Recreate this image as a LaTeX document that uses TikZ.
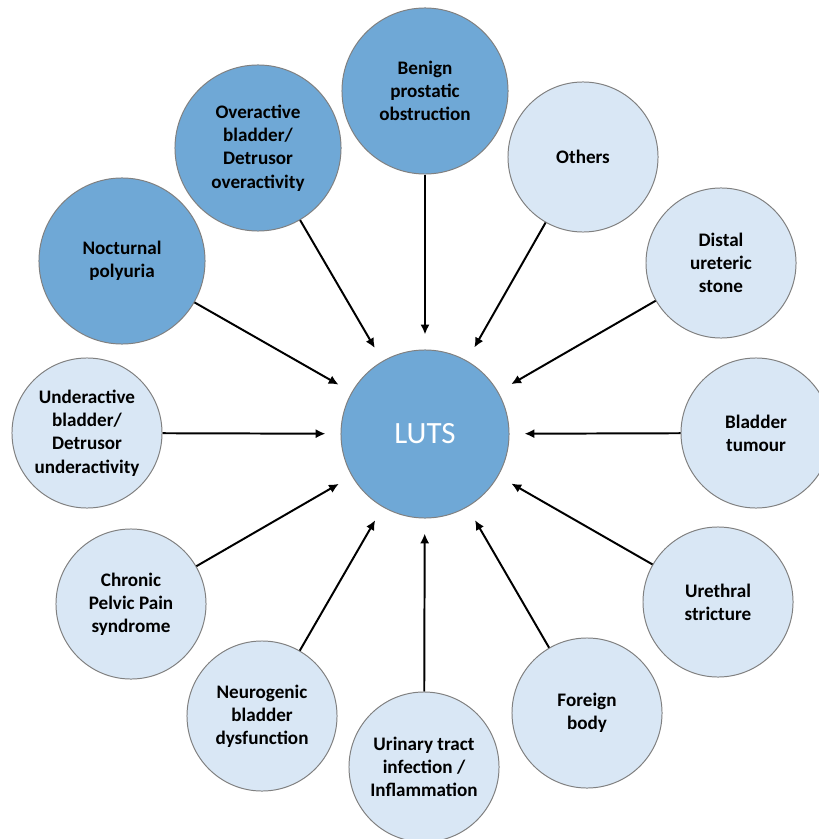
\documentclass[tikz,border=0pt]{standalone}
\usepackage{fontspec}
\setmainfont{Carlito}
\usetikzlibrary{arrows.meta}

\definecolor{darkblue}{HTML}{6FA8D6}
\definecolor{lightblue}{HTML}{D9E7F5}

\begin{document}
\begin{tikzpicture}[x=0.025cm, y=-0.025cm,
    cause/.style={circle, draw=gray, line width=0.7pt, fill=lightblue,
        minimum size=3.75cm, inner sep=0pt, align=center,
        font=\fontsize{13.6}{16.5}\selectfont\bfseries},
    major/.style={cause, fill=darkblue, minimum size=4.15cm},
    link/.style={-{Latex[length=7pt,width=6.5pt]}, line width=1.4pt, shorten >=0.375cm}]
    \useasboundingbox (0,0) rectangle (819,839);

    % centre
    \node[major, minimum size=4.2cm, text=white, font=\fontsize{22}{26}\selectfont] (luts) at (425,434) {LUTS};

    % main causes
    \node[major] (bpo) at (425,91) {Benign\\prostatic\\obstruction};
    \node[major] (oab) at (258,148) {Overactive\\bladder/\\Detrusor\\overactivity};
    \node[major] (np) at (122,261) {Nocturnal\\polyuria};

    % other causes
    \node[cause] (oth) at (583,157) {Others};
    \node[cause] (dus) at (721,263) {Distal\\ureteric\\stone};
    \node[cause] (bt) at (756,433) {Bladder\\tumour};
    \node[cause] (us) at (718,602) {Urethral\\stricture};
    \node[cause] (fb) at (587,713) {Foreign\\body};
    \node[cause] (uti) at (424,767) {Urinary tract\\infection /\\Inflammation};
    \node[cause] (nbd) at (262,716) {Neurogenic\\bladder\\dysfunction};
    \node[cause] (cpp) at (131,604) {Chronic\\Pelvic Pain\\syndrome};
    \node[cause] (uab) at (87,433) {Underactive\\bladder/\\Detrusor\\underactivity};

    \foreach \n in {bpo, oab, np, oth, dus, bt, us, fb, uti, nbd, cpp, uab}
        \draw[link] (\n) -- (luts);
\end{tikzpicture}
\end{document}
